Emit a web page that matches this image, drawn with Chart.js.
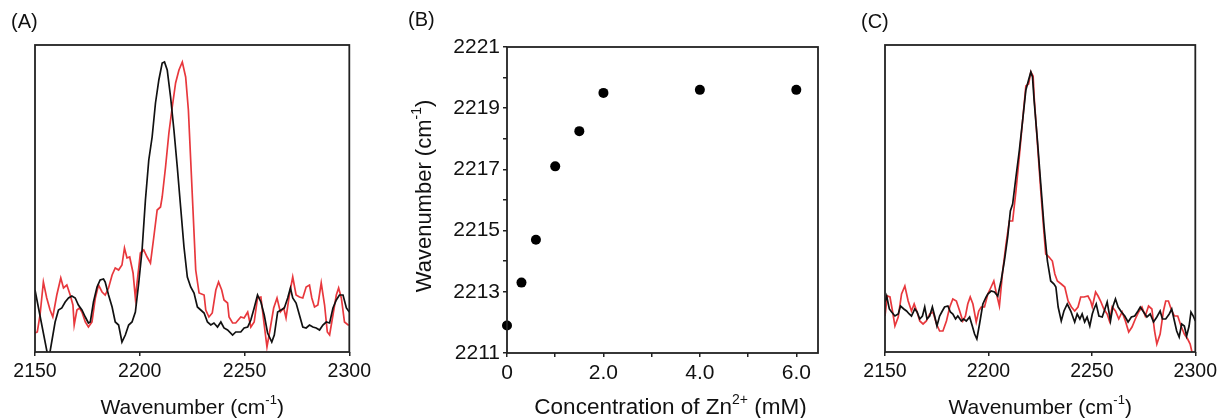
<!DOCTYPE html>
<html lang="en">
<head>
  <meta charset="UTF-8" />
  <title>Nitrile IR spectra and Zn2+ titration</title>
  <script src="https://cdn.jsdelivr.net/npm/chart.js"></script>
  <style>
    body {
      margin: 0;
      background: #fff;
    }
    .wrap {
      position: relative;
      width: 1221px;
      height: 418px;
    }
    .panel {
      position: absolute;
      top: 0;
    }
  </style>
</head>
<body>
  <div class="wrap">
    <div class="panel" style="left:0"><canvas id="chartA" width="375" height="418"></canvas></div>
    <div class="panel" style="left:400px"><canvas id="chartB" width="430" height="418"></canvas></div>
    <div class="panel" style="left:850px"><canvas id="chartC" width="371" height="418"></canvas></div>
  </div>

  <script>
    // (A) spectra: wavenumber (cm-1) and intensity (arb. units)
    const aBlackWn = [2150.0,2156.5,2159.6,2161.2,2162.8,2164.4,2166.0,2167.6,2169.2,2170.7,
      2172.4,2174.0,2175.5,2176.4,2177.9,2179.6,2181.1,2182.7,2183.5,2185.1,
      2186.8,2188.3,2189.9,2191.5,2193.1,2194.7,2196.3,2197.9,2199.5,2201.1,
      2202.7,2204.3,2205.9,2207.5,2209.1,2210.7,2211.8,2213.1,2214.7,2216.3,
      2217.9,2219.5,2221.1,2222.7,2224.3,2225.9,2227.5,2229.1,2230.7,2232.3,
      2233.9,2235.4,2237.1,2238.7,2240.2,2241.9,2244.3,2245.8,2248.2,2249.8,
      2251.5,2253.0,2254.6,2256.2,2257.8,2259.4,2261.0,2263.0,2264.2,2265.8,
      2267.4,2269.0,2270.6,2271.9,2273.0,2274.6,2276.2,2277.8,2279.4,2281.0,
      2282.6,2284.2,2285.8,2287.4,2289.0,2290.6,2292.2,2293.8,2295.3,2297.0,
      2298.6,2300.0];
    const aBlackI = [62,-8,30,42,44,50,54,56,54,47,
      42,35,29,30,50,65,72,73,70,57,
      45,30,27,10,17,27,30,40,69,102,
      152,192,215,249,272,289,290,282,255,222,
      185,145,105,75,65,59,45,42,39,30,
      27,29,25,30,24,22,17,20,20,24,
      25,32,44,57,50,37,19,10,17,40,
      42,44,54,64,54,49,37,25,24,27,
      25,24,22,27,30,29,44,52,57,57,
      44,40];

    const aRedWn = [2150.0,2151.1,2152.4,2154.0,2155.6,2157.2,2158.5,2160.4,2162.3,2163.6,
      2165.2,2166.8,2168.1,2168.7,2170.0,2171.2,2172.4,2174.0,2175.5,2177.2,
      2178.8,2180.3,2182.0,2183.5,2185.1,2186.8,2188.3,2189.9,2191.5,2192.7,
      2193.9,2195.2,2196.8,2197.9,2200.3,2201.9,2203.5,2205.1,2206.7,2208.3,
      2209.9,2210.7,2212.3,2213.9,2215.5,2217.1,2218.7,2220.3,2221.9,2223.2,
      2224.3,2225.4,2226.7,2228.3,2230.7,2231.5,2233.0,2234.6,2236.3,2237.6,
      2239.1,2240.2,2241.9,2242.6,2244.3,2245.8,2248.2,2249.8,2251.5,2253.0,
      2254.6,2256.2,2257.8,2259.4,2260.7,2262.3,2263.9,2265.5,2267.1,2268.7,
      2269.8,2271.4,2273.0,2274.6,2276.2,2277.8,2279.4,2281.0,2282.1,2283.4,
      2285.0,2286.6,2288.2,2289.5,2290.6,2292.2,2293.8,2294.9,2296.2,2297.7,
      2299.4,2300.0];
    const aRedI = [19,20,37,70,54,42,35,57,74,64,
      67,57,47,27,42,44,40,30,25,30,
      54,67,60,57,64,77,84,82,87,104,
      94,95,79,54,99,102,95,89,115,142,
      145,155,185,219,245,269,282,290,275,242,
      192,142,82,59,57,42,35,39,62,70,
      62,52,49,35,29,29,35,34,40,25,
      30,54,55,27,5,24,44,54,40,44,
      34,57,75,57,55,54,65,67,54,45,
      47,69,47,20,17,37,57,64,54,30,
      27,27];

    // (B) peak position vs Zn2+ concentration
    const concZn = [0, 0.3, 0.6, 1.0, 1.5, 2.0, 4.0, 6.0];
    const peakWn = [2211.9, 2213.3, 2214.7, 2217.1, 2218.25, 2219.5, 2219.6, 2219.6];
    const concTicks = [0, 1, 2, 3, 4, 5, 6];

    // (C) spectra
    const cBlackWn = [2150.0,2150.8,2152.1,2153.2,2154.8,2156.4,2157.5,2159.1,2160.4,2161.7,
      2162.8,2164.4,2165.5,2166.8,2168.1,2169.2,2170.3,2171.6,2172.9,2174.0,
      2175.1,2176.4,2177.7,2178.8,2180.4,2181.6,2182.8,2184.1,2185.2,2186.9,
      2188.0,2189.3,2190.9,2192.2,2193.3,2194.4,2195.7,2197.3,2198.9,2199.7,
      2201.3,2202.9,2204.5,2206.1,2207.7,2209.3,2210.6,2211.7,2213.3,2214.9,
      2216.5,2218.1,2219.4,2220.5,2221.3,2222.1,2223.7,2225.3,2226.9,2228.5,
      2230.1,2231.7,2232.6,2233.7,2235.2,2236.5,2238.1,2239.8,2241.7,2242.9,
      2244.2,2245.3,2246.5,2247.7,2249.0,2250.2,2251.0,2252.1,2253.4,2255.0,
      2256.3,2257.4,2259.0,2260.1,2261.4,2262.7,2264.3,2265.9,2267.5,2269.1,
      2270.7,2272.3,2273.4,2275.0,2276.6,2278.2,2279.8,2281.4,2283.0,2284.1,
      2285.7,2287.4,2288.6,2289.9,2291.0,2292.2,2293.4,2294.7,2295.8,2297.0,
      2297.9,2299.0,2300.0];
    const cBlackI = [50,56,43,40,36,38,46,43,41,38,
      36,43,40,33,36,45,33,36,45,36,
      26,36,41,45,46,40,38,33,36,31,
      33,31,35,26,18,13,28,48,55,58,
      61,60,56,71,91,115,141,148,175,201,
      231,262,272,280,275,251,211,168,125,91,
      71,68,65,45,31,41,48,41,30,38,
      33,38,30,35,26,38,43,48,36,35,
      43,50,31,45,53,45,40,36,30,35,
      36,41,45,40,35,38,30,35,41,33,
      33,38,43,31,21,15,28,26,16,26,
      40,36,31];

    const cRedWn = [2150.0,2151.1,2152.4,2153.7,2154.8,2156.4,2158.0,2159.6,2161.2,2162.8,
      2164.1,2165.5,2166.8,2168.4,2170.0,2171.6,2173.2,2174.9,2176.4,2178.0,
      2179.7,2181.3,2182.8,2184.5,2186.1,2187.6,2188.9,2190.0,2191.2,2192.5,
      2194.1,2195.3,2196.5,2198.1,2199.7,2201.3,2202.6,2203.7,2205.3,2206.9,
      2208.5,2210.1,2211.7,2213.3,2214.9,2216.5,2218.1,2219.4,2220.5,2221.6,
      2222.1,2223.7,2225.3,2226.9,2227.7,2229.3,2230.9,2232.1,2233.3,2235.2,
      2236.9,2238.5,2240.1,2241.7,2243.3,2244.6,2246.2,2248.1,2249.4,2250.2,
      2251.8,2253.0,2254.2,2255.8,2257.4,2258.5,2259.8,2261.4,2263.0,2264.6,
      2266.2,2267.8,2269.4,2271.0,2272.6,2274.2,2275.8,2277.4,2279.0,2280.3,
      2281.4,2283.0,2284.6,2285.7,2287.0,2288.3,2289.9,2291.5,2293.1,2294.7,
      2296.3,2297.5,2298.6,2300.0];
    const cRedI = [36,56,55,40,26,35,58,66,51,41,
      48,40,31,28,31,38,40,28,21,21,
      31,45,53,51,41,31,36,48,55,48,
      30,41,45,45,58,65,71,60,46,81,
      108,131,131,161,195,231,266,268,280,276,
      255,208,161,118,98,95,91,78,71,68,
      65,51,45,41,45,55,55,56,51,45,
      60,56,51,43,38,31,45,41,33,40,
      31,20,25,33,40,45,36,46,43,21,
      8,18,41,51,51,43,36,36,26,18,
      13,8,-2,-20];

    const FONT = '"Liberation Sans", Arial, sans-serif';
    const INK = '#111';
    const RED = '#e8383d';

    const pairs = (xs, ys) => xs.map((x, i) => ({ x: x, y: ys[i] }));

    // box around the plot area
    const framePlugin = {
      id: 'frame',
      afterDatasetsDraw(chart) {
        const a = chart.chartArea, ctx = chart.ctx;
        ctx.save();
        ctx.strokeStyle = '#222';
        ctx.lineWidth = 1.8;
        ctx.strokeRect(a.left, a.top, a.right - a.left, a.bottom - a.top);
        ctx.restore();
      }
    };

    // texts with superscripts (axis titles, panel letters)
    function textPlugin(items) {
      return {
        id: 'texts',
        afterDraw(chart) {
          const ctx = chart.ctx, a = chart.chartArea;
          items.forEach(it => {
            const main = it.size + 'px ' + FONT;
            const sup = Math.round(it.size * 0.62) + 'px ' + FONT;
            let total = 0;
            it.parts.forEach(p => { ctx.font = p[1] ? sup : main; total += ctx.measureText(p[0]).width; });
            const cx = it.x === 'center' ? (a.left + a.right) / 2 + (it.dx || 0) : it.x;
            ctx.save();
            ctx.fillStyle = INK;
            ctx.textBaseline = 'middle';
            ctx.translate(cx, it.y);
            if (it.rotate) ctx.rotate(it.rotate);
            let x = it.left ? 0 : -total / 2;
            it.parts.forEach(p => {
              ctx.font = p[1] ? sup : main;
              ctx.fillText(p[0], x, p[1] ? -it.size * 0.36 : 0);
              x += ctx.measureText(p[0]).width;
            });
            ctx.restore();
          });
        }
      };
    }

    const wnTitle = [['Wavenumber (cm', false], ['-1', true], [')', false]];

    function spectrumChart(id, blackX, blackY, redX, redY, letter) {
      return new Chart(document.getElementById(id), {
        type: 'line',
        data: {
          datasets: [
            { data: pairs(blackX, blackY), borderColor: INK, borderWidth: 1.7, pointRadius: 0, tension: 0 },
            { data: pairs(redX, redY), borderColor: RED, borderWidth: 1.7, pointRadius: 0, tension: 0 }
          ]
        },
        options: {
          responsive: false,
          animation: false,
          events: [],
          layout: { padding: { left: 35, right: 24, top: 45, bottom: 0 } },
          plugins: { legend: { display: false }, tooltip: { enabled: false } },
          scales: {
            x: {
              type: 'linear', min: 2150, max: 2300,
              ticks: { stepSize: 50, color: INK, padding: 4, maxRotation: 0, autoSkip: false,
                       font: { family: FONT, size: 19.5 }, callback: v => String(v) },
              grid: { drawOnChartArea: false, drawTicks: true, tickLength: 4, color: '#222', lineWidth: 1.5 },
              border: { display: false },
              afterFit: s => { s.height = 66; }
            },
            y: { display: false, min: 0, max: 307 }
          }
        },
        plugins: [framePlugin, textPlugin([
          { parts: wnTitle, x: 'center', y: 408, size: 21 },
          { parts: [[letter, false]], x: 11, y: 22, size: 20, left: true }
        ])]
      });
    }

    spectrumChart('chartA', aBlackWn, aBlackI, aRedWn, aRedI, '(A)');
    spectrumChart('chartC', cBlackWn, cBlackI, cRedWn, cRedI, '(C)');

    new Chart(document.getElementById('chartB'), {
      type: 'scatter',
      data: {
        datasets: [{
          data: pairs(concZn, peakWn),
          backgroundColor: '#000', borderWidth: 0, pointRadius: 5, clip: false
        }]
      },
      options: {
        responsive: false,
        animation: false,
        events: [],
        layout: { padding: { left: 0, right: 12, top: 47, bottom: 0 } },
        plugins: { legend: { display: false }, tooltip: { enabled: false } },
        scales: {
          x: {
            type: 'linear', min: 0, max: 6.45,
            afterBuildTicks: s => { s.ticks = concTicks.map(v => ({ value: v })); },
            ticks: { color: INK, padding: 4, maxRotation: 0, autoSkip: false,
                     font: { family: FONT, size: 21 },
                     callback: v => v === 0 ? '0' : (v % 2 === 0 ? v.toFixed(1) : '') },
            grid: { drawOnChartArea: false, drawTicks: true, tickLength: 4, color: '#222', lineWidth: 1.5 },
            border: { display: false },
            afterFit: s => { s.height = 65; }
          },
          y: {
            type: 'linear', min: 2211, max: 2221,
            ticks: { stepSize: 1, color: INK, padding: 3, autoSkip: false,
                     font: { family: FONT, size: 21 },
                     callback: v => (v % 2 === 1 ? String(v) : '') },
            grid: { drawOnChartArea: false, drawTicks: true, tickLength: 4, color: '#222', lineWidth: 1.5 },
            border: { display: false },
            afterFit: s => { s.width = 107; }
          }
        }
      },
      plugins: [framePlugin, textPlugin([
        { parts: [['Concentration of Zn', false], ['2+', true], [' (mM)', false]], x: 'center', dx: 8, y: 408, size: 22.5 },
        { parts: wnTitle, x: 25, y: 196, size: 22, rotate: -Math.PI / 2 },
        { parts: [['(B)', false]], x: 8, y: 20, size: 20, left: true }
      ])]
    });
  </script>
</body>
</html>
